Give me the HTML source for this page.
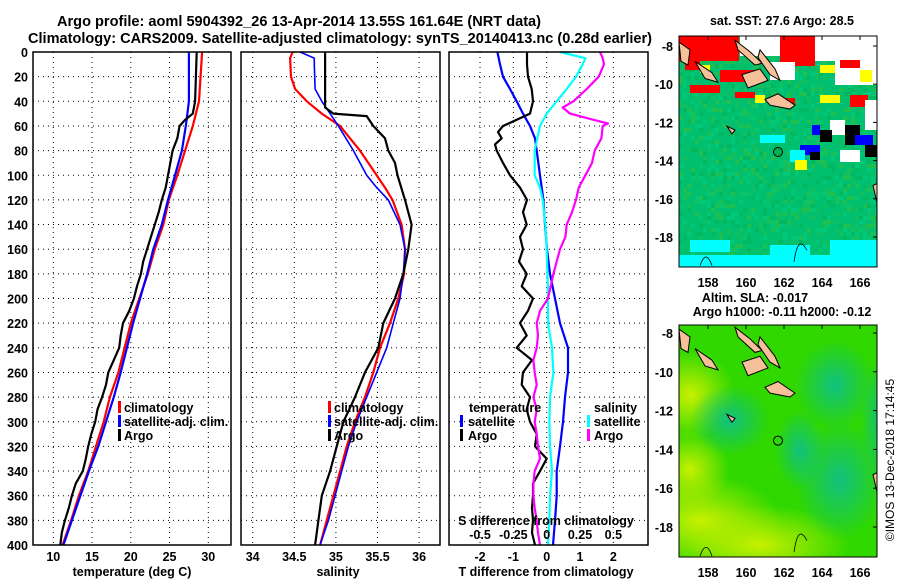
<!DOCTYPE html>
<html><head><meta charset="utf-8"><style>
html,body{margin:0;padding:0;background:#fff;}
svg{display:block;font-family:"Liberation Sans",Arial,sans-serif;font-weight:bold;}
</style></head><body>
<svg id="chart" width="900" height="580" viewBox="0 0 900 580" xmlns="http://www.w3.org/2000/svg">
<defs>
<radialGradient id="yg1" cx="0.5" cy="0.5" r="0.5"><stop offset="0" stop-color="#c8f000"/><stop offset="1" stop-color="#c8f000" stop-opacity="0"/></radialGradient>
<radialGradient id="tg1" cx="0.5" cy="0.5" r="0.5"><stop offset="0" stop-color="#10c080"/><stop offset="1" stop-color="#10c080" stop-opacity="0"/></radialGradient>
<clipPath id="m1clip"><rect x="679" y="36" width="198" height="231"/></clipPath>
<clipPath id="m2clip"><rect x="679" y="325" width="198" height="232"/></clipPath>
</defs>
<text x="57" y="26" font-size="14.5" textLength="484" lengthAdjust="spacingAndGlyphs">Argo profile: aoml 5904392_26 13-Apr-2014 13.55S 161.64E (NRT data)</text>
<text x="28" y="43" font-size="14.5" textLength="624" lengthAdjust="spacingAndGlyphs">Climatology: CARS2009. Satellite-adjusted climatology: synTS_20140413.nc (0.28d earlier)</text>
<g id="panels"></g>
<g id="maps"></g>
</svg>
<script>
// ---------- data ----------
const depthTicks = [0,20,40,60,80,100,120,140,160,180,200,220,240,260,280,300,320,340,360,380,400];
const tempTicks = [10,15,20,25,30];
const salTicks = [34,34.5,35,35.5,36];
const tdiffTicks = [-2,-1,0,1,2];
const sdiffTicks = [-0.5,-0.25,0,0.25,0.5];

const tClimDepth = [0,40,60,80,100,120,140,160,180,200,220,240,260,280,300,320,340,360,380,400];
const tClim = [29.2,28.8,28.0,27.0,26.0,24.9,24.2,23.1,22.2,21.1,20.0,19.2,18.4,17.3,16.5,15.5,14.5,13.3,12.3,11.2];
const tSatDepth = [0,40,50,60,80,100,120,140,160,180,200,220,240,260,280,300,320,340,360,380,400];
const tSat = [27.5,27.5,27.3,27.1,26.6,25.7,24.8,24.0,22.9,22.1,21.2,20.3,19.5,18.7,17.8,16.8,15.8,14.6,13.5,12.4,11.3];
const tArgoDepth = [0,20,40,50,55,60,70,80,90,100,110,120,130,140,150,160,170,180,190,200,210,220,230,240,250,260,270,280,290,300,310,320,330,340,350,360,370,380,390,400];
const tArgo = [28.5,28.4,28.3,28.0,27.0,26.3,26.0,25.4,25.1,24.8,24.5,24.0,23.6,23.1,22.6,22.1,21.6,21.3,20.8,20.4,19.8,19.0,18.7,18.5,17.8,17.1,16.8,16.3,15.7,15.4,14.9,14.5,14.2,13.8,12.9,12.4,12.0,11.5,11.1,10.9];

const sClimDepth = [0,5,20,30,40,50,60,70,80,90,100,110,120,140,160,180,200,220,240,260,280,300,320,340,360,380,400];
const sClim = [34.48,34.45,34.46,34.51,34.65,34.83,35.05,35.17,35.29,35.39,35.49,35.59,35.68,35.79,35.83,35.82,35.75,35.65,35.53,35.45,35.35,35.23,35.13,35.05,34.97,34.89,34.81];
const sSatDepth = [0,5,10,30,40,50,60,80,100,110,120,140,160,180,200,220,240,260,280,300,320,340,360,380,400];
const sSat = [34.57,34.74,34.74,34.75,34.83,34.93,35.03,35.21,35.37,35.49,35.63,35.77,35.83,35.81,35.77,35.69,35.61,35.49,35.37,35.25,35.15,35.07,34.99,34.91,34.81];
const sArgoDepth = [0,45,50,52,60,70,80,90,100,120,140,160,180,200,220,240,260,280,300,320,340,360,380,400];
const sArgo = [34.87,34.87,34.97,35.37,35.45,35.59,35.63,35.71,35.74,35.83,35.91,35.87,35.81,35.71,35.57,35.51,35.35,35.23,35.09,35.01,34.93,34.83,34.79,34.75];

const dTSatDepth = [0,10,20,30,40,50,60,70,80,100,120,140,160,180,200,220,240,260,280,300,320,340,360,380,400];
const dTSat = [-1.48,-1.4,-1.31,-1.1,-0.9,-0.71,-0.5,-0.35,-0.3,-0.2,-0.1,-0.05,0.01,0.1,0.25,0.4,0.64,0.64,0.55,0.49,0.4,0.3,0.3,0.25,0.19];
const dTArgoDepth = [0,10,20,30,40,50,55,60,65,70,75,80,90,100,110,120,130,140,150,160,170,180,190,200,210,220,230,240,250,260,270,280,290,300,310,320,330,340,350,360,370,380,390,400];
const dTArgo = [-0.59,-0.59,-0.56,-0.45,-0.41,-0.5,-0.9,-1.31,-1.46,-1.35,-1.55,-1.5,-1.31,-1.1,-0.8,-0.59,-0.71,-0.6,-0.8,-0.71,-0.83,-0.6,-0.75,-0.41,-0.56,-0.8,-0.6,-0.9,-0.44,-0.71,-0.75,-0.5,-0.6,-0.5,-0.3,-0.35,0,-0.2,-0.41,-0.41,-0.44,-0.41,-0.44,-0.35];
const dSSatDepth = [0,5,10,20,30,40,50,60,80,100,110,120,140,160,180,190,200,220,240,260,280,300,320,340,360,380,400];
const dSSat = [0.1,0.29,0.27,0.22,0.15,0.075,0,-0.05,-0.09,-0.09,-0.05,-0.03,-0.01,0,0.005,0.01,0.01,0.01,0.04,0.05,0.025,0.02,0.025,0.04,0.025,0.02,0.01];
const dSArgoDepth = [0,5,10,20,30,40,45,50,55,58,60,70,80,90,100,110,120,130,140,150,160,170,180,200,210,220,230,240,250,260,270,280,290,300,310,320,330,340,350,360,370,380,390,400];
const dSArgo = [0.4,0.42,0.43,0.39,0.3,0.2,0.12,0.175,0.35,0.46,0.42,0.41,0.36,0.34,0.29,0.24,0.22,0.19,0.15,0.14,0.1,0.075,0.05,0.01,-0.05,-0.075,-0.065,-0.075,-0.1,-0.09,-0.075,-0.1,-0.075,-0.09,-0.075,-0.065,-0.05,-0.09,-0.1,-0.1,-0.09,-0.075,-0.065,-0.05];

const latTicks = [-8,-10,-12,-14,-16,-18];
const lonTicks = [158,160,162,164,166];

// ---------- helpers ----------
const NS = "http://www.w3.org/2000/svg";
const root = document.getElementById('panels');
function mk(tag, attrs, parent){ const e=document.createElementNS(NS,tag); for(const k in attrs) e.setAttribute(k,attrs[k]); (parent||root).appendChild(e); return e; }
const Y0=52, Y1=545;
const yD = d => Y0 + (Y1-Y0)*d/400;
const xT = t => 53.3 + (t-10)*7.75;
const xS = s => 252.7 + (s-34)*83.2;
const xDT = d => 546.7 + d*33.33;
const xDS = s => 546.7 + s*133.3;

function frame(x0,x1,name){
  const r = mk('rect',{x:x0,y:Y0,width:x1-x0,height:Y1-Y0,fill:'none',stroke:'#000','stroke-width':1.5});
  
  
}
function grid(x0,x1,xs){
  depthTicks.forEach(d=>{ if(d>0&&d<400){ const l=mk('line',{x1:x0,x2:x1,y1:yD(d),y2:yD(d),stroke:'#000','stroke-width':1,'stroke-dasharray':'1,4'});
      }});
  xs.forEach(x=>{ const l=mk('line',{x1:x,x2:x,y1:Y0,y2:Y1,stroke:'#000','stroke-width':1,'stroke-dasharray':'1,4'});
      });
}
function line(xs, ds, fx, color, w, name){
  const pts = xs.map((v,i)=> fx(v).toFixed(1)+','+yD(ds[i]).toFixed(1)).join(' ');
  const p = mk('polyline',{points:pts,fill:'none',stroke:color,'stroke-width':w,'stroke-linejoin':'round'});
  
  
}
function txt(x,y,s,size,anchor,name,fill){
  const t = mk('text',{x:x,y:y,'font-size':size,'text-anchor':anchor||'start',fill:fill||'#000'});
  t.textContent = s;
  
  
  return t;
}
function legMark(x,y,color){
  const r = mk('rect',{x:x,y:y-11,width:3,height:12,fill:color});
  
  
}

// ---------- panel 1: temperature ----------
grid(33,231,tempTicks.map(xT));
depthTicks.forEach(d=>{ txt(28,yD(d)+5,String(d),12.5,'end','y-tick-label'); });
tempTicks.forEach(t=>{ txt(xT(t),561,String(t),12.5,'middle','temp-x-tick-label'); });
txt(132,576,'temperature (deg C)',12.5,'middle','temp-x-axis-title');
line(tClim,tClimDepth,xT,'#ff0000',2.2,'temp-climatology-line');
line(tSat,tSatDepth,xT,'#0000ff',2.2,'temp-satellite-line');
line(tArgo,tArgoDepth,xT,'#000000',2.2,'temp-argo-line');
frame(33,231,'temperature-panel');
legMark(118,412,'#ff0000'); txt(124,412,'climatology',12.5,'start','legend-climatology');
legMark(118,426,'#0000ff'); txt(124,426,'satellite-adj. clim.',12.5,'start','legend-satellite-adj');
legMark(118,440,'#000'); txt(124,440,'Argo',12.5,'start','legend-argo');

// ---------- panel 2: salinity ----------
grid(241,440,salTicks.map(xS));
salTicks.forEach(s=>{ txt(xS(s),561,String(s),12.5,'middle','sal-x-tick-label'); });
txt(338,576,'salinity',12.5,'middle','sal-x-axis-title');
line(sClim,sClimDepth,xS,'#ff0000',2.2,'sal-climatology-line');
line(sSat,sSatDepth,xS,'#0000ff',1.6,'sal-satellite-line');
line(sArgo,sArgoDepth,xS,'#000000',2.2,'sal-argo-line');
frame(241,440,'salinity-panel');
legMark(328,412,'#ff0000'); txt(334,412,'climatology',12.5,'start','legend-climatology-2');
legMark(328,426,'#0000ff'); txt(334,426,'satellite-adj. clim.',12.5,'start','legend-satellite-adj-2');
legMark(328,440,'#000'); txt(334,440,'Argo',12.5,'start','legend-argo-2');

// ---------- panel 3: differences ----------
grid(449,648,tdiffTicks.map(xDT));
tdiffTicks.forEach(t=>{ txt(xDT(t),561,String(t),12.5,'middle','tdiff-x-tick-label'); });
txt(546,576,'T difference from climatology',12.5,'middle','tdiff-x-axis-title');
line(dTSat,dTSatDepth,xDT,'#0000ff',2.2,'tdiff-satellite-line');
line(dTArgo,dTArgoDepth,xDT,'#000000',2.2,'tdiff-argo-line');
line(dSSat,dSSatDepth,xDS,'#00ffff',2.2,'sdiff-satellite-line');
line(dSArgo,dSArgoDepth,xDS,'#ff00ff',2.2,'sdiff-argo-line');
frame(449,648,'difference-panel');
txt(469,412,'temperature',12.5,'start','legend-temperature-header');
legMark(460,426,'#0000ff'); txt(468,426,'satellite',12.5,'start','legend-tdiff-satellite');
legMark(460,440,'#000'); txt(468,440,'Argo',12.5,'start','legend-tdiff-argo');
txt(594,412,'salinity',12.5,'start','legend-salinity-header');
legMark(587,426,'#00ffff'); txt(594,426,'satellite',12.5,'start','legend-sdiff-satellite');
legMark(587,440,'#ff00ff'); txt(594,440,'Argo',12.5,'start','legend-sdiff-argo');
txt(546,525,'S difference from climatology',12.5,'middle','sdiff-axis-title');
sdiffTicks.forEach(s=>{ txt(xDS(s),539,String(s),12.5,'middle','sdiff-tick-label'); });

// ---------- maps ----------
const mroot = document.getElementById('maps');
function mm(tag, attrs, parent){ const e=document.createElementNS(NS,tag); for(const k in attrs) e.setAttribute(k,attrs[k]); (parent||mroot).appendChild(e); return e; }
function mapAxes(yTop, yBot, latY, name){
  latTicks.forEach(l=>{ const y=latY(l);
    const t=mm('text',{x:673,y:y+5,'font-size':12.5,'text-anchor':'end'}); t.textContent=String(l);
     
    mm('line',{x1:873,x2:877,y1:y,y2:y,stroke:'#000'});
  });
  lonTicks.forEach(l=>{ const x=708+(l-158)*19;
    const t=mm('text',{x:x,y:yBot+20,'font-size':12.5,'text-anchor':'middle'}); t.textContent=String(l);
     
    mm('line',{x1:x,x2:x,y1:yTop,y2:yTop+4,stroke:'#000'});
  });
}
function islands(g, latY){
  const shapes = [
    [[679,latY(-7.8)],[690,latY(-8.2)],[688,latY(-9)],[681,latY(-8.8)]],
    [[695,latY(-8.8)],[712,latY(-9.4)],[718,latY(-9.9)],[705,latY(-9.7)]],
    [[735,latY(-7.7)],[750,latY(-8.3)],[762,latY(-8.9)],[755,latY(-9.0)],[738,latY(-8.2)]],
    [[742,latY(-9.5)],[760,latY(-9.2)],[768,latY(-9.8)],[748,latY(-10.2)]],
    [[760,latY(-8.2)],[775,latY(-9.2)],[780,latY(-9.8)],[770,latY(-9.5)],[758,latY(-8.6)]],
    [[765,latY(-10.8)],[778,latY(-10.5)],[795,latY(-11.1)],[790,latY(-11.3)],[770,latY(-11.1)]],
    [[727,latY(-12.2)],[735,latY(-12.4)],[732,latY(-12.6)]],
    [[873,latY(-15.3)],[877,latY(-15.2)],[877,latY(-16.2)]]
  ];
  shapes.forEach(s=>{ const p=mm('polygon',{points:s.map(q=>q.join(',')).join(' '),fill:'#f5c09a',stroke:'#000','stroke-width':1},g);
      });
  mm('path',{d:`M700 ${latY(-19.5)} Q706 ${latY(-18.6)} 712 ${latY(-19.5)}`,fill:'none',stroke:'#000','stroke-width':0.8},g);
  mm('path',{d:`M794 ${latY(-19.3)} Q798 ${latY(-17.8)} 807 ${latY(-18.7)}`,fill:'none',stroke:'#000','stroke-width':0.8},g);
}

// Map 1 (SST)
const lat1 = l => 46 + (-8-l)*19.1;
const g1 = mm('g',{'clip-path':'url(#m1clip)'});
 
mm('rect',{x:679,y:36,width:198,height:231,fill:'#00c070'},g1);
// pixel texture (decorative)
const greens = ['#00b860','#10c060','#00c878','#20c050'];
for(let gy=0; gy<58; gy++){ for(let gx=0; gx<50; gx++){
  let h = ((gx*374761393) ^ (gy*668265263)) >>> 0;
  h = Math.imul(h ^ (h>>>13), 1274126177) >>> 0;
  const k = (h>>>8) % 10;
  if(k<4){ mm('rect',{x:679+gx*4,y:36+gy*4,width:4,height:4,fill:greens[k]},g1); }
}}
const patches1 = [
 [679,36,60,25,'#ff0000'],[740,36,40,20,'#ffffff'],[780,36,35,30,'#ff0000'],[815,36,62,25,'#ffffff'],
 [685,60,15,10,'#ff0000'],[700,65,10,8,'#ffff00'],[720,70,40,12,'#ff0000'],[770,62,25,18,'#ffffff'],
 [820,65,15,8,'#ffff00'],[835,55,42,30,'#ffffff'],[860,70,12,12,'#ffff00'],[840,60,20,8,'#ff0000'],
 [690,85,30,8,'#ff0000'],[735,92,20,6,'#ff0000'],[755,95,10,8,'#ffff00'],[780,98,15,8,'#ff0000'],
 [820,95,20,8,'#ffff00'],[850,95,18,12,'#ff0000'],[865,100,12,30,'#ffffff'],
 [845,125,15,20,'#000000'],[830,120,15,15,'#ffffff'],[820,130,12,12,'#000000'],[812,125,8,10,'#0000ff'],
 [855,135,18,10,'#0000ff'],[865,145,12,12,'#000000'],[800,145,20,10,'#0000ff'],[790,150,15,12,'#00ffff'],
 [810,152,10,8,'#000000'],[840,150,20,12,'#ffffff'],[760,135,25,8,'#00ffff'],[795,160,12,10,'#ffff00'],
 [690,240,40,12,'#00ffff'],[770,245,40,22,'#00ffff'],[830,240,47,27,'#00ffff'],[679,255,198,12,'#00ffff']
];
patches1.forEach(p=>{ const r=mm('rect',{x:p[0],y:p[1],width:p[2],height:p[3],fill:p[4]},g1);   });
islands(g1, lat1);
mm('circle',{cx:778,cy:lat1(-13.55),r:4.5,fill:'#00b050',stroke:'#000'},g1);
mm('rect',{x:679,y:36,width:198,height:231,fill:'none',stroke:'#000'});
mapAxes(36,267,lat1,'map1');
const t1=mm('text',{x:782,y:25,'font-size':12.5,'text-anchor':'middle'}); t1.textContent='sat. SST: 27.6 Argo: 28.5';
 

// Map 2 (SLA)
const lat2 = l => 333 + (-8-l)*19.4;
const g2 = mm('g',{'clip-path':'url(#m2clip)'});
 
mm('rect',{x:679,y:325,width:198,height:232,fill:'#30d800'},g2);
[[690,395,45,45],[760,545,90,40],[700,520,80,45],[690,470,40,40]].forEach(c=>mm('ellipse',{cx:c[0],cy:c[1],rx:c[2],ry:c[3],fill:'url(#yg1)'},g2));
[[730,420,40,35],[835,385,40,45],[840,480,45,60],[880,420,20,60],[800,450,25,40]].forEach(c=>mm('ellipse',{cx:c[0],cy:c[1],rx:c[2],ry:c[3],fill:'url(#tg1)'},g2));
islands(g2, lat2);
mm('circle',{cx:778,cy:lat2(-13.55),r:4.5,fill:'none',stroke:'#000'},g2);
mm('rect',{x:679,y:325,width:198,height:232,fill:'none',stroke:'#000'});
mapAxes(325,557,lat2,'map2');
const t2=mm('text',{x:755,y:302,'font-size':12.5,'text-anchor':'middle'}); t2.textContent='Altim. SLA: -0.017';
 
const t3=mm('text',{x:782,y:316,'font-size':12.5,'text-anchor':'middle'}); t3.textContent='Argo h1000: -0.11 h2000: -0.12';
 
const t4=mm('text',{x:0,y:0,'font-size':12,'font-weight':'normal','text-anchor':'middle',transform:'translate(894,460) rotate(-90)'}); t4.textContent='©IMOS 13-Dec-2018 17:14:45';
 
</script>
</body></html>
